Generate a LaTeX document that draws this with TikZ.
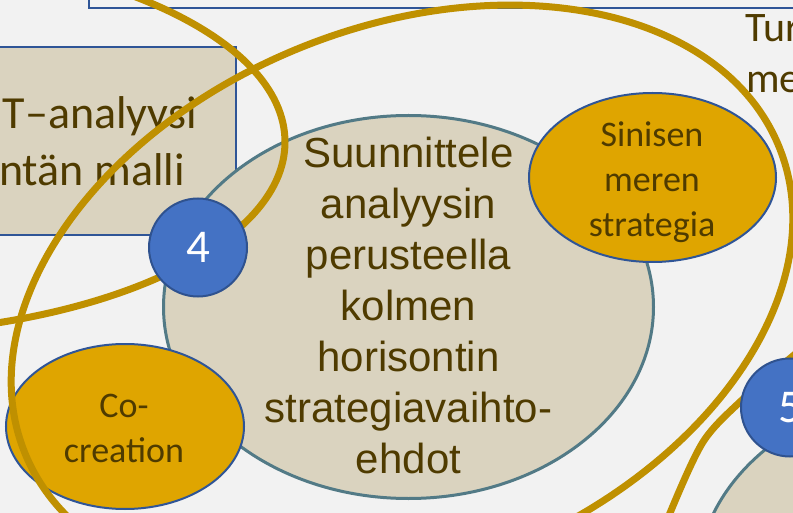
\documentclass[tikz,border=0pt]{standalone}
\usepackage{fontspec}
\setmainfont{Carlito}
\newfontfamily\arialf{Liberation Sans}
\usetikzlibrary{shapes.geometric}
\definecolor{bgc}{HTML}{F2F2F2}
\definecolor{beige}{HTML}{DAD3BF}
\definecolor{tealc}{HTML}{527A86}
\definecolor{goldc}{HTML}{BF9000}
\definecolor{orangec}{HTML}{DFA500}
\definecolor{bluel}{HTML}{2F5597}
\definecolor{circf}{HTML}{4472C4}
\definecolor{circb}{HTML}{2F528F}
\definecolor{txtc}{HTML}{4F3B00}
\begin{document}
\begin{tikzpicture}[x=1pt,y=1pt,
  boxs/.style={draw=bluel, line width=1.8pt},
  bigell/.style={ellipse, draw=tealc, fill=beige, line width=3pt, inner sep=0pt},
  orell/.style={ellipse, draw=bluel, fill=orangec, line width=2pt, inner sep=0pt},
  numc/.style={circle, draw=circb, fill=circf, line width=2pt, inner sep=0pt,
    minimum size=98pt, text=white, font=\fontsize{47}{47}\selectfont},
  goldl/.style={draw=goldc, line width=7pt},
  lbl/.style={text=txtc, inner sep=0pt, align=center},
  bigtxt/.style={lbl, font=\fontsize{46}{56}\selectfont},
  sidetxt/.style={lbl, font=\fontsize{42}{51}\selectfont},
  smalltxt/.style={lbl, font=\fontsize{36}{45}\selectfont},
  maintxt/.style={lbl, font=\arialf\fontsize{42}{51}\selectfont}
]
\clip (0,0) rectangle (793,-513);
\fill[bgc] (0,0) rectangle (793,-513);
% frames
\draw[boxs, fill=bgc] (89,-8) rectangle (820,20);
\draw[boxs, fill=beige] (-20,-47) rectangle (236,-235);
\node[bigtxt, anchor=base east] (swot) at (197,-129) {T–analyysi};
\node[bigtxt, anchor=base east] (malli) at (185,-186) {ntän malli};
% main ellipse
\node[bigell, minimum width=490pt, minimum height=383pt] (main) at (408.5,-307) {};
\node[maintxt] (maintext) at (408.5,-305.6)
  {Suunnittele\\analyysin\\perusteella\\kolmen\\horisontin\\strategiavaihto-\\ehdot};
\node[bigell, minimum width=492pt, minimum height=386pt] (main2) at (943,-583) {};
% orange ellipses
\node[orell, minimum width=247pt, minimum height=169pt] (sin) at (652.5,-177.5) {};
\node[smalltxt] (sintext) at (652,-182.5) {Sinisen\\meren\\strategia};
\node[orell, minimum width=238pt, minimum height=165pt] (co) at (125,-426.5) {};
\node[smalltxt] (cotext) at (124,-428) {Co-\\creation};
% gold rings
\draw[goldl] (-148,-142) ellipse [x radius=433, y radius=192];
\draw[goldl, rotate around={22.1:(402,-300)}] (402,-300) ellipse [x radius=407, y radius=272];
\draw[goldl] plot[smooth] coordinates {(800,-350) (742,-400) (703,-442) (670,-513) (660,-545)};
% numbers
\node[numc] (n4) at (198,-247.5) {4};
\node[numc] (n5) at (790,-407.5) {5};
% right texts
\node[sidetxt, anchor=base west] (tur) at (745,-42) {Tur};
\node[sidetxt, anchor=base west] (me) at (746,-93) {me};
\end{tikzpicture}
\end{document}
